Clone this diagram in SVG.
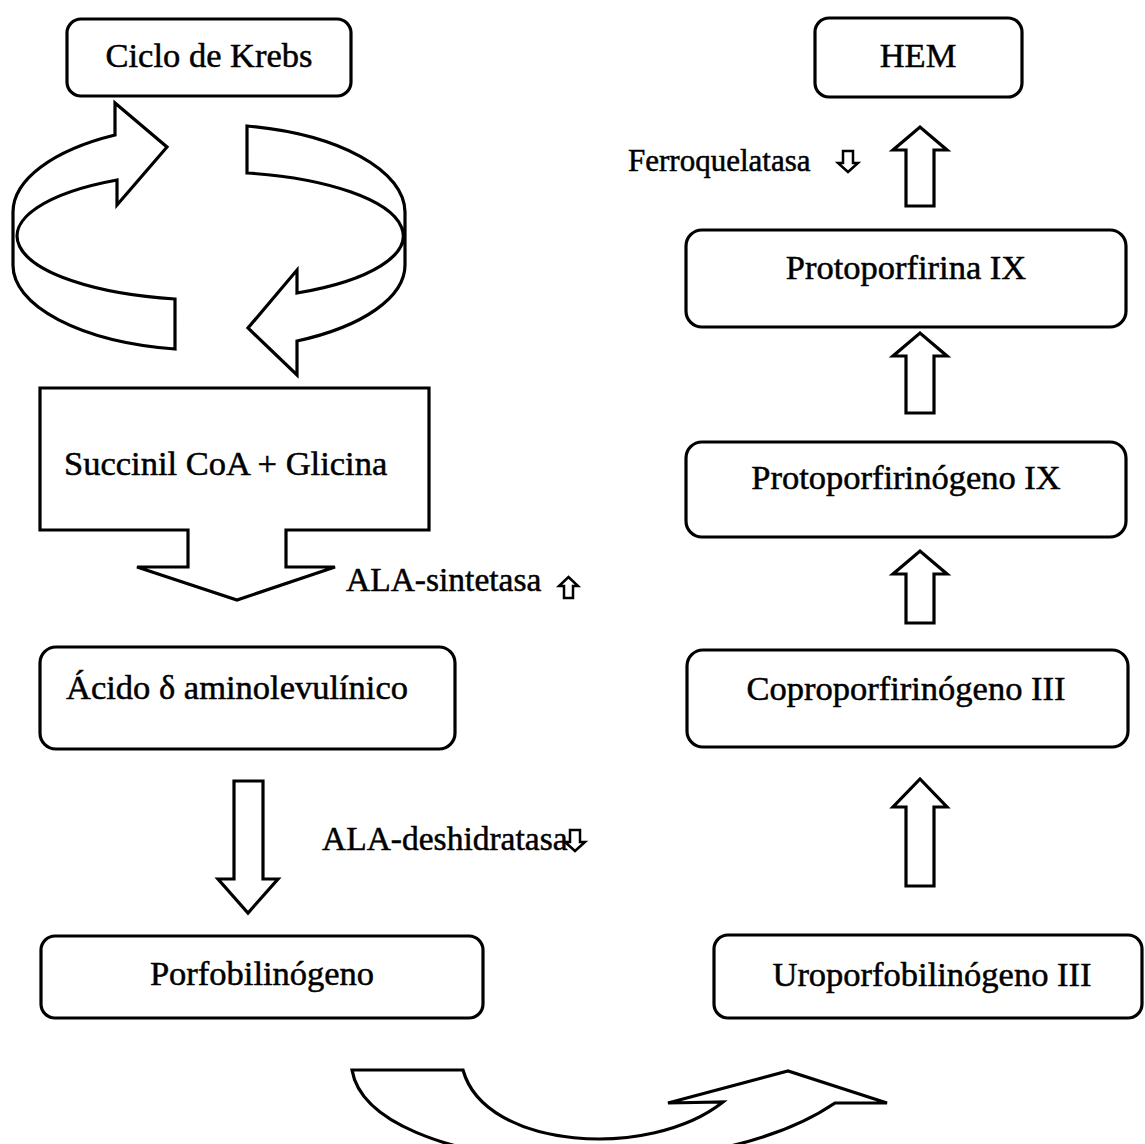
<svg xmlns="http://www.w3.org/2000/svg" width="1145" height="1144" viewBox="0 0 1145 1144">
<style>
.box{fill:#fff;stroke:#000;stroke-width:3.2}
.shape{fill:#fff;stroke:#000;stroke-width:3.2;stroke-linejoin:miter}
.small{fill:#fff;stroke:#000;stroke-width:2.5;stroke-linejoin:miter}
text{font-family:"Liberation Serif","Times New Roman",serif;font-size:34.5px;fill:#000;stroke:#000;stroke-width:0.5}
.c{text-anchor:middle}
.lbl{font-size:33.5px}
.lbl2{font-size:31px}
</style>
<rect width="1145" height="1144" fill="#fff"/>
<g id="connectors">
  <path id="krebs-cycle-left" class="shape" d="M175,299 A193,64 0 0 1 117,180 L117,205 L167,147 L115,103 L115,135 A196,88 0 0 0 13,212 L13,265 A196,85 0 0 0 175,349 Z"/>
  <path id="krebs-cycle-right" class="shape" d="M247,126 A196,88 0 0 1 405,212 L405,265 A196,85 0 0 1 297,341 L297,375 L248,328 L297,270 L297,293 A193,64 0 0 0 247,173 Z"/>
  <polygon id="arrow-ala-pbg" class="shape" points="234,781 263,781 263,879 278,879 248,913 218,879 234,879"/>
  <path id="arrow-pbg-uro" class="shape" d="M352,1070 L463,1070 C485,1150 650,1160 723,1102 L668,1103 L788,1071 L887,1103 L835,1103 C700,1195 370,1175 352,1070 Z"/>
  <polygon id="arrow-uro-copro" class="shape" points="906,886 934,886 934,807 947,807 920,779 893,807 906,807"/>
  <polygon id="arrow-copro-protogen" class="shape" points="906,623 934,623 934,574 947,574 920,551 893,574 906,574"/>
  <polygon id="arrow-protogen-proto" class="shape" points="906,413 934,413 934,356 947,356 920,333 893,356 906,356"/>
  <polygon id="arrow-proto-hem" class="shape" points="906,206 934,206 934,150 947,150 920,127 893,150 906,150"/>
</g>
<g id="node-krebs">
  <rect class="box" x="67" y="19" width="284" height="77" rx="14"/>
  <text class="c" x="209" y="67">Ciclo de Krebs</text>
</g>
<g id="node-succinil">
  <path class="shape" d="M40,388 L429,388 L429,530 L286,530 L286,567 L335,567 L237,600 L137,567 L188,567 L188,530 L40,530 Z"/>
  <text x="64" y="475">Succinil CoA + Glicina</text>
</g>
<g id="label-ala-sintetasa">
  <text class="lbl" x="346" y="591">ALA-sintetasa</text>
  <polygon class="small" points="564,598 573,598 573,586 578,586 568.5,577 559,586 564,586"/>
</g>
<g id="node-acido">
  <rect class="box" x="40" y="647" width="415" height="102" rx="16"/>
  <text x="66" y="699">Ácido δ aminolevulínico</text>
</g>
<g id="label-ala-deshidratasa">
  <text class="lbl" x="322" y="850">ALA-deshidratasa</text>
  <polygon class="small" points="570,830 580,830 580,842 585,842 575,851 565,842 570,842"/>
</g>
<g id="node-porfobilinogeno">
  <rect class="box" x="41" y="936" width="442" height="82" rx="14"/>
  <text class="c" x="262" y="985">Porfobilinógeno</text>
</g>
<g id="node-uroporfobilinogeno">
  <rect class="box" x="714" y="935" width="428" height="83" rx="14"/>
  <text class="c" x="932" y="986">Uroporfobilinógeno III</text>
</g>
<g id="node-coproporfirinogeno">
  <rect class="box" x="687" y="650" width="441" height="97" rx="16"/>
  <text class="c" x="906" y="700">Coproporfirinógeno III</text>
</g>
<g id="node-protoporfirinogeno">
  <rect class="box" x="686" y="442" width="440" height="95" rx="16"/>
  <text class="c" x="906" y="489">Protoporfirinógeno IX</text>
</g>
<g id="node-protoporfirina">
  <rect class="box" x="686" y="230" width="440" height="97" rx="16"/>
  <text class="c" x="906" y="279">Protoporfirina IX</text>
</g>
<g id="label-ferroquelatasa">
  <text class="lbl2" x="628" y="171">Ferroquelatasa</text>
  <polygon class="small" points="843,151 853,151 853,163 858,163 848,172 838,163 843,163"/>
</g>
<g id="node-hem">
  <rect class="box" x="815" y="18" width="207" height="79" rx="14"/>
  <text class="c" x="918" y="67">HEM</text>
</g>
</svg>
